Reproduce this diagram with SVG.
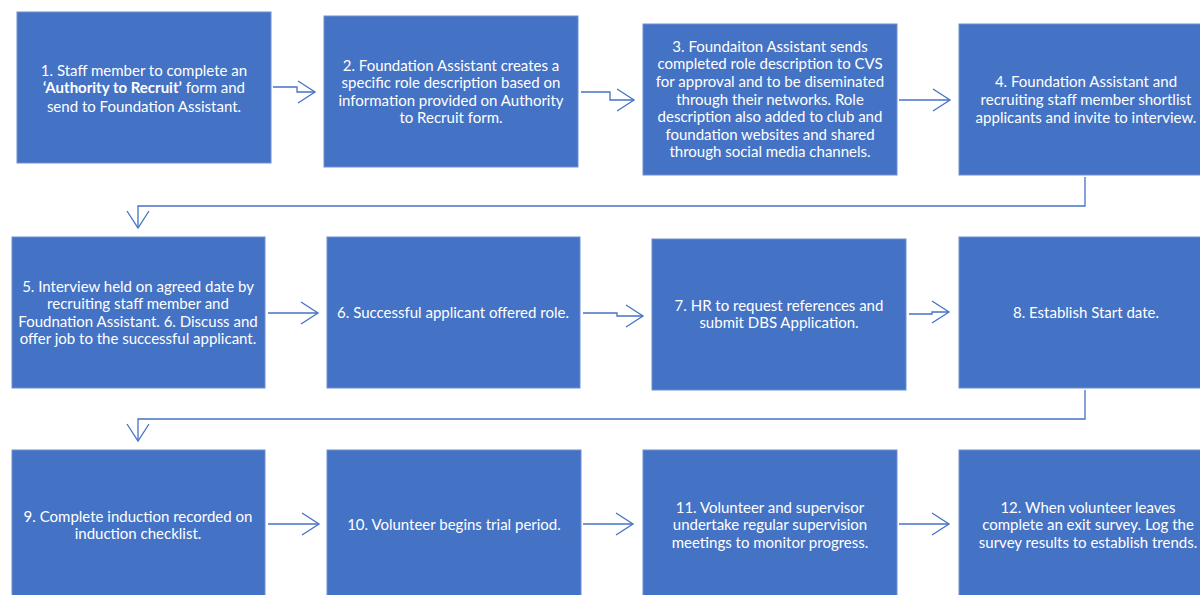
<svg xmlns="http://www.w3.org/2000/svg" width="1200" height="595" viewBox="0 0 1200 595">
<defs>
<style>
.box{fill:#4472C4;stroke:#6F8FCF;stroke-width:1}
.t{font-family:Lato,"Liberation Sans",sans-serif;font-size:15px;fill:#ffffff;text-anchor:middle}
.b{font-weight:bold}
.c{fill:none;stroke:#4472C4;stroke-width:1.3}
</style>
<marker id="ah" viewBox="0 0 20 24" refX="18" refY="12" markerWidth="20" markerHeight="24" markerUnits="userSpaceOnUse" orient="auto">
<path d="M1,1 L18,12 L1,23" fill="none" stroke="#4472C4" stroke-width="1.3"/>
</marker>
</defs>
<rect width="1200" height="595" fill="#ffffff"/>
<g id="connectors">
<path class="c" d="M273,87 H297 V92 H315" marker-end="url(#ah)"/>
<path class="c" d="M581,92 H610 V100 H634" marker-end="url(#ah)"/>
<path class="c" d="M899,100 H950" marker-end="url(#ah)"/>
<path class="c" d="M1085,177 V206 H138 V228" marker-end="url(#ah)"/>
<path class="c" d="M268,313 H318" marker-end="url(#ah)"/>
<path class="c" d="M583,313 H617 V316 H643" marker-end="url(#ah)"/>
<path class="c" d="M909,314 H932 V312 H949" marker-end="url(#ah)"/>
<path class="c" d="M1085,390 V419 H138 V441" marker-end="url(#ah)"/>
<path class="c" d="M268,524 H319" marker-end="url(#ah)"/>
<path class="c" d="M583,524 H633" marker-end="url(#ah)"/>
<path class="c" d="M899,524 H949" marker-end="url(#ah)"/>
</g>
<g id="node1"><rect class="box" x="17" y="12" width="254" height="151"/>
<text class="t" x="144"><tspan x="144" y="76">1. Staff member to complete an</tspan><tspan x="144" y="93"><tspan class="b">‘Authority to Recruit’</tspan> form and</tspan><tspan x="144" y="112">send to Foundation Assistant.</tspan></text></g>
<g id="node2"><rect class="box" x="324" y="16" width="254" height="151"/>
<text class="t"><tspan x="451" y="71">2. Foundation Assistant creates a</tspan><tspan x="451" y="88">specific role description based on</tspan><tspan x="451" y="106">information provided on Authority</tspan><tspan x="451" y="123">to Recruit form.</tspan></text></g>
<g id="node3"><rect class="box" x="643" y="24" width="254" height="151"/>
<text class="t"><tspan x="770" y="52">3. Foundaiton Assistant sends</tspan><tspan x="770" y="69">completed role description to CVS</tspan><tspan x="770" y="87">for approval and to be diseminated</tspan><tspan x="770" y="105">through their networks. Role</tspan><tspan x="770" y="122">description also added to club and</tspan><tspan x="770" y="140">foundation websites and shared</tspan><tspan x="770" y="157">through social media channels.</tspan></text></g>
<g id="node4"><rect class="box" x="959" y="24" width="254" height="151"/>
<text class="t"><tspan x="1086" y="87">4. Foundation Assistant and</tspan><tspan x="1086" y="105">recruiting staff member shortlist</tspan><tspan x="1086" y="123">applicants and invite to interview.</tspan></text></g>
<g id="node5"><rect class="box" x="12" y="237" width="253" height="151"/>
<text class="t"><tspan x="138" y="292">5. Interview held on agreed date by</tspan><tspan x="138" y="309">recruiting staff member and</tspan><tspan x="138" y="327">Foudnation Assistant. 6. Discuss and</tspan><tspan x="138" y="344">offer job to the successful applicant.</tspan></text></g>
<g id="node6"><rect class="box" x="327" y="237" width="253" height="151"/>
<text class="t"><tspan x="453" y="318">6. Successful applicant offered role.</tspan></text></g>
<g id="node7"><rect class="box" x="652" y="239" width="254" height="151"/>
<text class="t"><tspan x="779" y="311">7. HR to request references and</tspan><tspan x="779" y="328">submit DBS Application.</tspan></text></g>
<g id="node8"><rect class="box" x="959" y="237" width="254" height="151"/>
<text class="t"><tspan x="1086" y="318">8. Establish Start date.</tspan></text></g>
<g id="node9"><rect class="box" x="12" y="450" width="253" height="151"/>
<text class="t"><tspan x="138" y="522">9. Complete induction recorded on</tspan><tspan x="138" y="539">induction checklist.</tspan></text></g>
<g id="node10"><rect class="box" x="327" y="450" width="254" height="151"/>
<text class="t"><tspan x="454" y="530">10. Volunteer begins trial period.</tspan></text></g>
<g id="node11"><rect class="box" x="643" y="450" width="254" height="151"/>
<text class="t"><tspan x="770" y="513">11. Volunteer and supervisor</tspan><tspan x="770" y="530">undertake regular supervision</tspan><tspan x="770" y="548">meetings to monitor progress.</tspan></text></g>
<g id="node12"><rect class="box" x="959" y="450" width="254" height="151"/>
<text class="t"><tspan x="1088" y="513">12. When volunteer leaves</tspan><tspan x="1088" y="530">complete an exit survey. Log the</tspan><tspan x="1088" y="548">survey results to establish trends.</tspan></text></g>
</svg>
